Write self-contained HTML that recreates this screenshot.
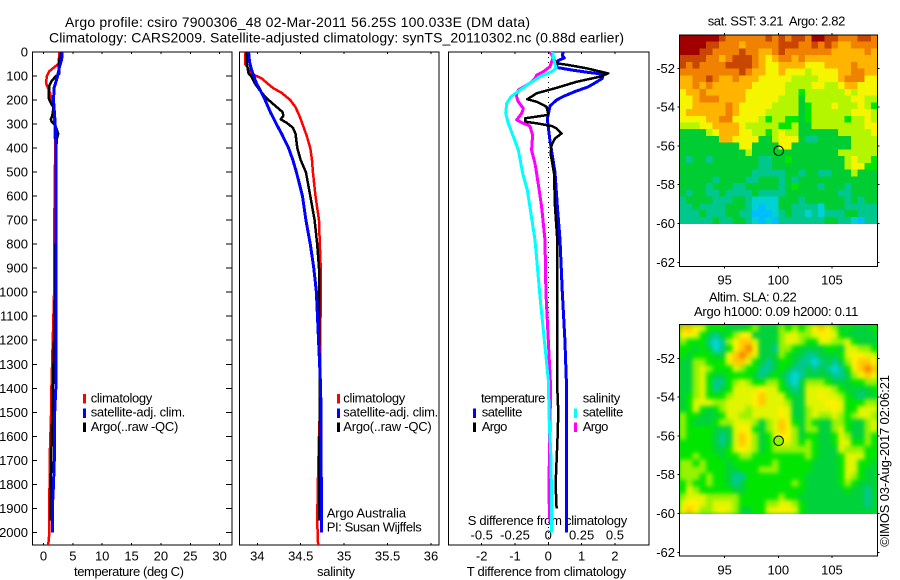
<!DOCTYPE html>
<html>
<head>
<meta charset="utf-8">
<title>Argo profile csiro 7900306_48</title>
<style>
html,body{margin:0;padding:0;background:#fff;}
#chart{display:block;width:900px;height:580px;background:#fff;}
text{font-family:"Liberation Sans",sans-serif;font-size:13px;fill:#000;}
.frame{fill:none;stroke:#000;stroke-width:1;shape-rendering:crispEdges;}
.tick{stroke:#000;stroke-width:1;shape-rendering:crispEdges;}
.series{fill:none;shape-rendering:crispEdges;stroke-linejoin:round;}
</style>
</head>
<body>
<svg id="chart" xmlns="http://www.w3.org/2000/svg" width="900" height="580" viewBox="0 0 900 580">
<defs>
<filter id="smooth" x="-5%" y="-5%" width="110%" height="110%" color-interpolation-filters="sRGB"><feGaussianBlur stdDeviation="2"/></filter>
<clipPath id="slaClip"><rect x="679.5" y="324.5" width="198" height="189.5"/></clipPath>
</defs>
<text x="65" y="27" style="font-size:14px" textLength="465">Argo profile: csiro 7900306_48 02-Mar-2011 56.25S 100.033E (DM data)</text>
<text x="49" y="42.5" style="font-size:14px" textLength="575">Climatology: CARS2009. Satellite-adjusted climatology: synTS_20110302.nc (0.88d earlier)</text>
<text x="74" y="576" textLength="110">temperature (deg C)</text>
<text x="317" y="576" textLength="38">salinity</text>
<text x="466.7" y="576" textLength="159.5">T difference from climatology</text>
<text x="467.7" y="525" textLength="159.5">S difference from climatology</text>
<text x="326.7" y="517.7" textLength="79.3">Argo Australia</text>
<text x="326.7" y="531.7" textLength="95">PI: Susan Wijffels</text>
<text x="707.7" y="25.7" textLength="137.6">sat. SST: 3.21&#160; Argo: 2.82</text>
<text x="709" y="301.7" textLength="87.7">Altim. SLA: 0.22</text>
<text x="694" y="316" textLength="164.3">Argo h1000: 0.09 h2000: 0.11</text>
<text transform="translate(889 546.7) rotate(-90)" textLength="171.7">©IMOS 03-Aug-2017 02:06:21</text>
</svg>
<script>
// ---- axis tick values ----
const depthTicks = [0,100,200,300,400,500,600,700,800,900,1000,1100,1200,1300,1400,1500,1600,1700,1800,1900,2000];
const tempTicks = [0,5,10,15,20,25,30];
const salTicks = [34,34.5,35,35.5,36];
const salTickLabels = ['34','34.5','35','35.5','36'];
const tDiffTicks = [-2,-1,0,1,2];
const tDiffTickLabels = ['-2','-1','0','1','2'];
const sDiffTicks = [-0.5,-0.25,0,0.25,0.5];
const sDiffTickLabels = ['-0.5','-0.25','0','0.25','0.5'];
const lonTicks = [95,100,105];
const latTicks = [-52,-54,-56,-58,-60,-62];

// ---- temperature profiles ----
const tempClimDepth = [0,50,60,80,100,130,150,170,200,230,300,400,800,1000,1450,1500,1650,1850,2000,2053];
const tempClimValue = [2.73,2.55,2.0,1.0,0.57,0.45,0.75,1.1,1.4,1.7,1.9,2.0,1.8,1.8,1.3,1.3,1.1,1.0,1.0,0.8];
const tempSatDepth = [0,30,60,100,150,200,300,400,700,1000,1400,1500,1650,1800,1900,2000];
const tempSatValue = [3.2,3.1,2.75,2.4,1.8,1.7,2.0,2.15,2.15,2.15,2.1,1.9,1.9,1.7,1.5,1.5];
const tempArgoDepth = [0,50,90,100,120,140,170,190,200,215,230,265,280,290,305,340,360,400,700,900,1000,1400,1600,1800,1950];
const tempArgoValue = [2.95,2.6,2.7,2.15,1.4,1.0,0.9,0.85,1.0,1.3,1.7,1.5,1.25,1.4,2.0,2.5,2.3,2.15,2.1,2.0,2.0,1.6,1.4,1.25,1.1];

// ---- salinity profiles ----
const salClimDepth = [0,50,70,90,100,110,150,170,200,230,270,300,350,400,450,500,600,700,800,900,1000,1500,1600,1750,1950,2053];
const salClimValue = [33.86,33.86,33.90,33.93,33.99,34.05,34.18,34.28,34.38,34.44,34.49,34.52,34.57,34.61,34.63,34.64,34.67,34.71,34.72,34.73,34.73,34.72,34.71,34.70,34.69,34.70];
const salSatDepth = [0,40,70,100,130,170,200,250,300,340,400,450,500,600,700,800,900,1000,1400,2000];
const salSatValue = [33.9,33.91,33.93,33.96,33.99,34.05,34.09,34.15,34.22,34.28,34.36,34.41,34.45,34.52,34.56,34.61,34.65,34.68,34.73,34.74];
const salArgoDepth = [0,50,90,100,130,170,200,225,250,265,280,295,315,340,400,450,500,600,700,800,900,1000,1400,1950];
const salArgoValue = [33.87,33.88,33.90,33.93,33.97,34.05,34.13,34.21,34.29,34.30,34.27,34.34,34.41,34.44,34.46,34.50,34.56,34.61,34.66,34.69,34.71,34.71,34.72,34.71];

// ---- difference profiles ----
const tDiffSatDepth = [0,15,25,35,55,65,75,85,90,95,110,125,145,165,185,200,225,280,370,500,640,780,1000,1200,1400,2000];
const tDiffSatValue = [0.45,0.42,0.48,0.3,0.25,0.28,0.7,1.2,1.5,1.65,1.62,1.45,1.2,0.8,0.45,0.25,0.05,-0.03,0.05,0.2,0.27,0.35,0.42,0.5,0.55,0.55];
const tDiffArgoDepth = [0,47,54,68,89,103,124,151,172,197,207,228,262,276,290,297,308,318,339,360,388,422,505,644,783,1400,1500,1600,1700,1800,1900];
const tDiffArgoValue = [0.05,0.25,0.6,1.15,1.8,1.55,0.85,0.2,-0.35,-0.63,-0.35,-0.05,0,-0.7,-0.7,-0.35,0.1,0.25,0.4,0.2,0.1,0.07,0.17,0.2,0.27,0.27,0.3,0.28,0.25,0.22,0.25];
const sDiffSatDepth = [0,33,68,82,103,130,158,186,214,255,297,353,408,505,575,644,783,1033,1365,1560,1660,1850,2000];
const sDiffSatValue = [0.032,0.042,0.058,0.025,-0.062,-0.138,-0.212,-0.28,-0.312,-0.32,-0.3,-0.262,-0.225,-0.192,-0.158,-0.138,-0.1,-0.06,0,0.008,0.018,0.025,0.025];
const sDiffArgoDepth = [0,20,61,82,96,110,130,158,179,207,235,255,283,297,308,346,408,464,505,575,644,783,1000,1400,1650,1850,1960];
const sDiffArgoValue = [0.012,0.038,0.012,-0.038,-0.088,-0.1,-0.138,-0.225,-0.242,-0.225,-0.188,-0.2,-0.238,-0.188,-0.138,-0.118,-0.125,-0.1,-0.088,-0.068,-0.05,-0.025,-0.018,0.018,0.008,0.005,0.012];

// ---- map colour levels (low = cold/blue, high = warm/red) ----
const sstRows = [
[10,10,10,10,10,10,9,8,8,8,8,8,8,9,8,9,8,9,9,8,10,10,9,9,8,8,8,9,9,8],
[10,10,10,10,9,9,8,8,8,7,8,8,8,8,8,9,9,9,8,8,9,8,9,8,7,7,8,8,8,8],
[10,10,10,9,9,8,8,8,8,9,8,8,7,7,8,9,8,8,8,8,8,8,8,7,7,7,7,7,8,7],
[9,9,9,9,8,8,7,8,9,9,9,8,7,6,7,8,8,7,8,7,7,7,7,7,7,7,7,7,7,7],
[9,8,9,8,8,8,8,9,9,9,9,8,7,6,6,7,7,7,7,6,6,6,7,7,7,7,8,7,7,7],
[8,8,8,8,8,8,8,8,8,9,8,7,7,6,6,7,6,6,6,5,6,6,6,6,7,7,8,8,7,7],
[7,7,8,8,9,8,7,7,8,7,7,7,6,6,6,6,6,5,5,5,5,6,6,6,7,8,8,8,6,6],
[7,7,8,7,8,7,7,7,7,7,7,6,6,6,6,6,5,5,5,5,6,6,5,5,6,7,7,6,6,6],
[6,7,7,8,7,7,7,7,7,7,6,6,6,6,6,6,5,5,4,5,5,5,5,5,5,6,5,6,6,6],
[6,6,7,8,8,8,7,7,7,7,6,6,6,6,6,5,5,5,3,5,5,5,5,5,5,5,6,6,5,5],
[6,6,7,7,7,7,7,8,7,6,6,6,6,6,5,5,5,5,3,4,5,5,5,6,5,5,5,6,5,4],
[6,7,7,7,7,7,7,8,7,6,6,6,6,5,5,5,5,5,3,4,5,5,5,5,5,5,6,6,6,5],
[6,6,6,6,7,7,8,8,6,6,6,6,5,4,5,5,4,4,3,4,5,5,5,5,5,4,5,5,6,5],
[5,5,5,6,6,7,7,7,7,6,5,5,5,5,5,4,4,5,3,3,5,5,5,5,5,5,5,5,6,6],
[3,3,3,3,5,6,7,7,7,6,6,5,5,4,5,6,5,5,3,3,3,3,3,3,5,5,5,5,5,6],
[3,3,3,3,3,3,7,7,6,6,6,6,3,3,5,6,6,6,3,2,2,3,3,3,3,3,5,5,5,5],
[3,3,3,3,3,3,3,3,3,6,6,3,3,3,3,6,6,3,3,3,3,3,3,3,3,3,5,5,5,5],
[3,3,3,3,3,3,3,3,3,3,5,3,3,3,3,3,3,3,3,3,3,3,3,3,5,5,5,5,5,5],
[3,2,3,3,2,3,3,3,3,3,3,3,2,2,3,3,4,3,3,3,3,3,3,3,3,5,6,5,5,4],
[3,3,3,3,3,3,3,3,3,3,3,3,2,2,3,3,3,3,3,3,3,3,3,3,3,5,6,6,4,4],
[3,3,3,3,3,3,3,3,3,3,3,2,2,2,2,2,3,3,2,3,3,2,2,3,3,3,5,3,3,3],
[3,3,3,3,3,2,3,3,3,3,2,2,3,3,3,2,3,2,3,3,3,3,3,3,3,3,3,3,3,3],
[3,3,3,3,2,3,3,3,2,2,3,3,3,3,3,2,3,4,3,3,3,2,3,3,3,2,3,3,3,3],
[3,2,3,3,2,2,3,2,2,2,2,3,2,2,2,2,3,3,3,3,3,3,3,3,2,2,3,3,3,3],
[2,3,3,3,3,2,2,2,3,3,2,1,1,1,1,3,3,3,2,3,3,3,3,3,3,2,3,2,3,3],
[2,2,3,2,2,2,2,3,3,3,2,1,0,1,1,3,3,2,2,2,2,1,3,3,3,2,2,2,2,2],
[2,2,2,3,2,2,2,3,3,2,2,0,0,0,1,2,3,2,2,1,2,1,2,2,2,3,3,2,2,2],
[2,2,2,2,2,3,2,2,3,3,2,1,0,1,0,2,2,2,2,2,2,2,3,3,2,2,1,0,2,2]
];
const slaRows = [
[8,8,7,6,4,4,4,3,3,3,4,5,3,3,3,5,4,5,4,5,7,8,7,5,3,4,3,3,3,4],
[7,7,6,4,3,2,3,4,5,7,7,3,3,3,3,5,6,6,5,5,6,7,7,6,4,3,3,3,3,3],
[5,4,4,4,2,1,2,5,7,8,8,6,3,3,3,5,6,6,5,4,4,6,6,5,5,6,4,3,3,3],
[4,4,3,4,3,1,2,4,7,8,9,7,3,3,2,5,5,4,3,3,3,3,4,4,3,6,6,5,5,4],
[4,3,4,4,4,3,3,7,8,9,8,6,3,3,3,5,4,3,3,2,2,3,3,3,4,6,7,7,6,6],
[3,3,5,5,4,4,4,6,8,8,6,4,3,2,3,4,4,3,2,2,1,2,3,2,3,5,7,8,8,7],
[3,3,5,6,5,4,4,4,6,5,4,4,2,2,3,4,3,2,2,3,2,3,2,1,2,4,7,8,9,8],
[3,3,5,6,4,3,3,4,4,4,4,3,2,3,4,3,2,1,2,3,3,3,3,2,2,3,5,7,8,7],
[3,3,5,6,4,2,2,4,5,6,5,4,4,5,5,4,2,1,3,5,5,5,4,3,3,3,4,4,5,5],
[3,3,5,6,4,2,3,4,6,6,6,6,7,6,6,4,3,2,3,6,6,6,6,5,4,3,3,3,3,4],
[3,4,5,6,4,4,4,5,6,6,6,7,8,6,6,6,4,3,3,6,6,7,6,6,5,4,3,2,3,3],
[3,4,6,6,6,5,5,6,6,6,6,7,8,6,6,6,5,3,3,6,6,6,7,7,6,4,4,4,5,5],
[3,4,6,4,3,4,5,6,6,6,5,6,6,6,6,7,6,3,3,5,6,6,6,7,6,4,4,6,6,6],
[5,4,4,3,3,3,4,6,6,5,5,6,6,6,6,7,6,3,3,5,6,5,5,6,5,4,5,6,6,5],
[5,4,3,3,3,4,5,5,6,6,6,5,3,5,6,8,7,4,3,5,4,3,3,5,5,4,3,3,5,6],
[5,4,4,4,4,3,3,3,6,7,7,4,3,5,6,8,7,5,3,5,5,3,3,5,6,4,3,3,5,6],
[5,4,4,4,4,3,2,3,6,8,7,5,3,4,6,7,7,5,3,4,4,3,3,4,6,5,3,3,5,4],
[4,4,4,4,4,3,2,3,6,8,7,5,3,4,5,6,6,5,4,5,4,3,3,4,6,6,4,4,5,4],
[4,4,4,4,4,3,3,4,6,7,6,5,3,4,5,5,5,5,5,5,4,3,3,3,6,5,5,5,4,4],
[4,4,5,4,4,4,3,4,4,5,5,4,4,4,4,4,4,4,4,5,4,3,3,3,4,6,6,6,4,4],
[5,5,4,5,4,4,4,3,4,4,4,4,4,4,5,4,4,4,4,4,3,3,3,3,4,6,6,4,4,3],
[5,5,5,5,4,4,4,3,3,4,4,4,5,5,5,4,4,4,4,4,3,3,3,3,4,6,6,4,3,3],
[5,5,5,4,5,4,4,3,2,2,4,4,4,4,4,4,4,4,4,3,3,3,3,3,4,6,5,4,3,3],
[4,5,4,4,5,4,4,3,2,3,4,4,4,4,4,4,4,5,4,3,3,3,3,3,4,5,4,3,3,3],
[4,6,5,4,4,4,4,4,3,3,4,4,4,4,4,4,4,4,4,3,3,3,3,3,3,4,3,3,2,3],
[5,6,6,6,5,5,5,5,5,4,4,4,4,4,4,5,4,4,3,3,3,3,3,3,3,3,3,3,2,3],
[6,7,7,6,5,6,6,6,5,4,4,4,4,5,5,6,6,5,4,3,3,3,3,3,3,3,3,3,2,3],
[7,8,7,5,5,6,7,6,5,3,3,4,4,6,7,7,7,6,4,3,3,3,3,3,3,3,3,3,3,3]
];
const argoLon = 100.033;
const argoLat = -56.25;
const argoSlaLevel = 5;

// ---- axis functions ----
const xTemp = v => 43.5 + 5.87 * v;
const xSal = v => 257.3 + 86.85 * (v - 34);
const xTDiff = v => 548.3 + 33.3 * v;
const xSDiff = v => 548.3 + 133.2 * v;
const yDepth = d => 52 + 0.2402 * d;
const xLon = v => 778.3 + 10.73 * (v - 100);
const ySst = v => 68.3 + 19.4 * (-52 - v);
const ySla = v => 358.3 + 19.4 * (-52 - v);

const sstColors = ['#00beff','#00d2d2','#00c88c','#00cd32','#00e600','#b4f500','#f5f500','#ffb400','#f08200','#c84600','#a00000'];
const slaColors = ['#00beff','#00d8dc','#00c896','#00d23c','#00e600','#96f200','#e1f500','#fff000','#ffc800','#f58200','#c84600'];
const NS = 'http://www.w3.org/2000/svg';
const svg = document.getElementById('chart');

function el(tag, attrs, parent) {
  const e = document.createElementNS(NS, tag);
  for (const k in attrs) e.setAttribute(k, attrs[k]);
  (parent || svg).appendChild(e);
  return e;
}
function tickLine(name, x1, y1, x2, y2) {
  const e = el('line', {x1: x1, y1: y1, x2: x2, y2: y2, class: 'tick'});
  
  
}
function label(name, x, y, anchor, str) {
  const e = el('text', {x: x, y: y, 'text-anchor': anchor});
  e.textContent = str;
  
  
  return e;
}
function frame(name, x, y, w, h) {
  const e = el('rect', {x: x, y: y, width: w, height: h, class: 'frame'});
  
  
}
function series(name, depths, values, xf, color, width) {
  const pts = depths.map((d, i) => xf(values[i]).toFixed(1) + ',' + yDepth(d).toFixed(1)).join(' ');
  const e = el('polyline', {points: pts, class: 'series', stroke: color, 'stroke-width': width});
  
  
}
function swatch(name, x, y, color) {
  const e = el('rect', {x: x, y: y, width: 3, height: 9.5, fill: color, 'shape-rendering': 'crispEdges'});
  
  
}
function legendText(name, x, y, len, str) {
  const e = label(name, x, y, 'start', str);
  e.setAttribute('textLength', len);
}

// ---- profile panel frames ----
frame('temperature-panel-frame', 32.5, 52, 199.5, 493);
frame('salinity-panel-frame', 239.5, 52, 199.5, 493);
frame('difference-panel-frame', 448.5, 52, 200.5, 493);

// ---- depth ticks ----
depthTicks.forEach(d => {
  tickLine('depth-tick-left', 32.5, yDepth(d), 37, yDepth(d));
  tickLine('depth-tick-right', 226, yDepth(d), 232, yDepth(d));
  label('depth-tick-label', 28, yDepth(d) + 4.5, 'end', String(d));
});
// ---- x ticks ----
tempTicks.forEach(v => {
  tickLine('temperature-tick-bottom', xTemp(v), 545, xTemp(v), 543);
  tickLine('temperature-tick-top', xTemp(v), 52, xTemp(v), 54);
  label('temperature-tick-label', xTemp(v), 560.5, 'middle', String(v));
});
salTicks.forEach((v, i) => {
  tickLine('salinity-tick-bottom', xSal(v), 545, xSal(v), 543);
  tickLine('salinity-tick-top', xSal(v), 52, xSal(v), 54);
  label('salinity-tick-label', xSal(v), 560.5, 'middle', salTickLabels[i]);
});
tDiffTicks.forEach((v, i) => {
  tickLine('t-difference-tick-bottom', xTDiff(v), 545, xTDiff(v), 543);
  tickLine('t-difference-tick-top', xTDiff(v), 52, xTDiff(v), 54);
  label('t-difference-tick-label', xTDiff(v), 560.5, 'middle', tDiffTickLabels[i]);
});
sDiffTicks.forEach((v, i) => {
  label('s-difference-tick-label', xSDiff(v), 539.3, 'middle', sDiffTickLabels[i]);
});

// ---- zero line ----
const zeroLine = el('line', {x1: xTDiff(0), y1: 52, x2: xTDiff(0), y2: 545, stroke: '#000', 'stroke-width': 1, 'stroke-dasharray': '1 4', 'shape-rendering': 'crispEdges'});



// ---- series ----
series('temperature-climatology-line', tempClimDepth, tempClimValue, xTemp, '#ff0000', 2.5);
series('temperature-argo-line', tempArgoDepth, tempArgoValue, xTemp, '#000000', 2.5);
series('temperature-satellite-line', tempSatDepth, tempSatValue, xTemp, '#0000ff', 3);
series('salinity-climatology-line', salClimDepth, salClimValue, xSal, '#ff0000', 2.5);
series('salinity-argo-line', salArgoDepth, salArgoValue, xSal, '#000000', 2.5);
series('salinity-satellite-line', salSatDepth, salSatValue, xSal, '#0000ff', 3);
series('t-difference-satellite-line', tDiffSatDepth, tDiffSatValue, xTDiff, '#0000ff', 3);
series('t-difference-argo-line', tDiffArgoDepth, tDiffArgoValue, xTDiff, '#000000', 2.5);
series('s-difference-argo-line', sDiffArgoDepth, sDiffArgoValue, xSDiff, '#ff00ff', 3);
series('s-difference-satellite-line', sDiffSatDepth, sDiffSatValue, xSDiff, '#00ffff', 3);

// ---- legends ----
swatch('legend-swatch-climatology', 83, 394, '#ff0000');
swatch('legend-swatch-satellite-adj', 83, 408.3, '#0000ff');
swatch('legend-swatch-argo', 83, 422.7, '#000000');
legendText('legend-label-climatology', 90.7, 402.7, 61.6, 'climatology');
legendText('legend-label-satellite-adj', 90.7, 416.7, 94.6, 'satellite-adj. clim.');
legendText('legend-label-argo', 90.7, 431, 87.6, 'Argo(..raw -QC)');
swatch('salinity-legend-swatch-climatology', 337, 394, '#ff0000');
swatch('salinity-legend-swatch-satellite-adj', 337, 408.3, '#0000ff');
swatch('salinity-legend-swatch-argo', 337, 422.7, '#000000');
legendText('salinity-legend-label-climatology', 343.3, 402.7, 62, 'climatology');
legendText('salinity-legend-label-satellite-adj', 343.3, 416.7, 95, 'satellite-adj. clim.');
legendText('salinity-legend-label-argo', 343.3, 431, 88.4, 'Argo(..raw -QC)');
legendText('legend-heading-temperature', 481, 402.7, 64.3, 'temperature');
legendText('legend-label-t-satellite', 481.7, 416.7, 40.6, 'satellite');
legendText('legend-label-t-argo', 481.7, 431, 25.6, 'Argo');
swatch('legend-swatch-t-satellite', 473, 408.3, '#0000ff');
swatch('legend-swatch-t-argo', 473, 422.7, '#000000');
legendText('legend-heading-salinity', 582.7, 402.7, 37.6, 'salinity');
legendText('legend-label-s-satellite', 582.7, 416.7, 40.6, 'satellite');
legendText('legend-label-s-argo', 582.7, 431, 25.6, 'Argo');
swatch('legend-swatch-s-satellite', 574, 408.3, '#00ffff');
swatch('legend-swatch-s-argo', 574, 422.7, '#ff00ff');

// ---- maps ----
const lonStart = 90.79;
const lonStep = 18.45 / 30;
const latStart = -50.28;
const latStep = 9.72 / 28;

function drawCells(rows, yf, colors, parent, cellName) {
  rows.forEach((row, r) => {
    row.forEach((level, c) => {
      const x0 = xLon(lonStart + c * lonStep);
      const x1 = xLon(lonStart + (c + 1) * lonStep);
      const y0 = yf(latStart - r * latStep);
      const y1 = yf(latStart - (r + 1) * latStep);
      const cell = el('rect', {x: x0.toFixed(2), y: y0.toFixed(2), width: (x1 - x0 + 0.4).toFixed(2), height: (y1 - y0 + 0.4).toFixed(2), fill: colors[level]}, parent);
      
      
    });
  });
}

const sstGroup = el('g', {'shape-rendering': 'crispEdges'});


drawCells(sstRows, ySst, sstColors, sstGroup, 'sst-cell');

const slaClipGroup = el('g', {'clip-path': 'url(#slaClip)'});


const slaBase = el('rect', {x: 679.5, y: 324.5, width: 198, height: 189.5, fill: slaColors[4]}, slaClipGroup);


const slaBlur = el('g', {filter: 'url(#smooth)', 'shape-rendering': 'crispEdges'}, slaClipGroup);


drawCells(slaRows, ySla, slaColors, slaBlur, 'sla-cell');

frame('sst-map-frame', 679.5, 35, 198, 231.5);
frame('sla-map-frame', 679.5, 324.5, 198, 231.5);

function mapTicks(prefix, yf, top, bottom, xLabelY) {
  lonTicks.forEach(v => {
    tickLine(prefix + '-lon-tick-top', xLon(v), top, xLon(v), top - 2);
    tickLine(prefix + '-lon-tick-bottom', xLon(v), bottom, xLon(v), bottom + 2);
    label(prefix + '-lon-tick-label', xLon(v), xLabelY, 'middle', String(v));
  });
  latTicks.forEach(v => {
    tickLine(prefix + '-lat-tick-left', 679.5, yf(v), 677.5, yf(v));
    tickLine(prefix + '-lat-tick-right', 877.5, yf(v), 879.5, yf(v));
    label(prefix + '-lat-tick-label', 675, yf(v) + 4.5, 'end', String(v));
  });
}
mapTicks('sst-map', ySst, 35, 266.5, 284.3);
mapTicks('sla-map', ySla, 324.5, 556, 574.3);

const sstMarker = el('circle', {cx: xLon(argoLon), cy: ySst(argoLat), r: 4.8, fill: 'none', stroke: '#000', 'stroke-width': 1});


const slaMarker = el('circle', {cx: xLon(argoLon), cy: ySla(argoLat), r: 4.8, fill: slaColors[argoSlaLevel], stroke: '#000', 'stroke-width': 1});


</script>
</body>
</html>
